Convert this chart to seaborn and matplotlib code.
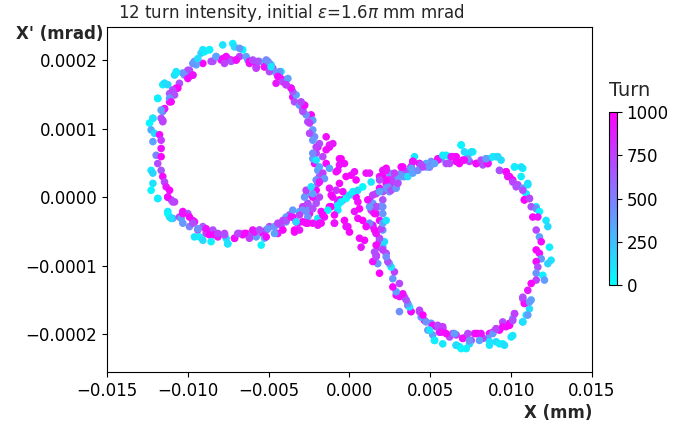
import matplotlib
matplotlib.use("Agg")
import matplotlib.pyplot as plt
import numpy as np
import pandas as pd
import seaborn as sns

# points: (X in 1e-3 mm, X' in 1e-4 mrad, turn)
left_top = [
    (-7.22, 2.24, 60), (-7.84, 2.22, 110), (-6.60, 2.15, 30), (-7.11, 2.19, 150), (-8.66, 2.15, 80),
    (-9.18, 2.10, 170), (-8.97, 2.12, 40), (-8.25, 2.05, 420), (-7.63, 2.05, 960), (-7.32, 2.00, 910),
    (-7.01, 2.00, 990), (-7.94, 2.00, 940), (-8.45, 1.98, 700), (-6.80, 2.05, 760), (-6.29, 2.00, 380),
    (-5.98, 1.98, 450), (-5.57, 1.98, 330), (-5.15, 1.98, 400), (-4.85, 1.93, 120), (-5.26, 1.90, 930),
    (-5.77, 1.90, 980), (-6.19, 1.95, 900), (-9.07, 1.95, 970), (-9.48, 1.93, 360), (-9.69, 1.95, 440),
    (-10.0, 1.85, 720), (-10.31, 1.81, 410), (-10.72, 1.83, 90), (-10.82, 1.78, 140), (-9.90, 1.76, 950),
    (-9.69, 1.78, 920), (-4.95, 1.95, 350), (-5.15, 2.00, 470), (-4.74, 1.88, 690), (-4.54, 1.81, 390),
    (-4.23, 1.83, 70), (-4.33, 1.76, 740), (-4.12, 1.71, 990),
    (-9.07, 2.15, 100), (-8.66, 2.15, 50), (-9.59, 1.98, 380), (-9.38, 2.02, 140), (-8.56, 1.98, 710),
    (-8.25, 2.05, 350), (-7.84, 2.02, 970), (-7.53, 2.02, 930), (-7.32, 1.98, 690), (-7.01, 2.00, 950),
    (-7.73, 1.95, 740), (-6.80, 2.17, 420), (-6.39, 2.05, 360), (-6.19, 1.98, 980), (-5.98, 2.00, 700),
    (-5.77, 1.88, 760), (-5.67, 1.98, 680), (-5.26, 1.90, 940), (-5.05, 1.98, 430), (-4.95, 1.83, 720),
    (-4.85, 1.90, 90), (-4.33, 1.83, 400), (-4.43, 1.76, 960), (-4.54, 1.66, 910), (-4.12, 1.68, 730),
    (-3.92, 1.64, 990), (-3.81, 1.73, 370), (-3.61, 1.59, 440), (-3.51, 1.46, 950), (-3.40, 1.39, 700),
    (-3.09, 1.34, 410), (-2.78, 1.34, 920), (-2.89, 1.27, 750), (-2.37, 1.20, 970), (-2.27, 1.12, 390),
    (-2.58, 1.10, 690),
]
left_outer = [
    (-10.52, 1.66, 680), (-10.72, 1.59, 940), (-10.93, 1.56, 770), (-11.13, 1.51, 650), (-11.44, 1.66, 100),
    (-11.55, 1.64, 50), (-11.24, 1.64, 160), (-11.86, 1.44, 130), (-11.13, 1.39, 970), (-11.44, 1.29, 910),
    (-11.55, 1.25, 430), (-11.65, 1.15, 700), (-11.55, 1.10, 750), (-12.16, 1.15, 60), (-12.37, 1.08, 20),
    (-12.27, 0.98, 310), (-12.06, 0.93, 140), (-11.75, 0.91, 950), (-11.65, 0.83, 790), (-12.16, 0.81, 370),
    (-11.65, 0.71, 930), (-11.96, 0.61, 460), (-11.65, 0.59, 990), (-11.86, 0.49, 710), (-12.27, 0.39, 80),
    (-12.16, 0.35, 170), (-11.65, 0.39, 660), (-11.55, 0.30, 960), (-11.44, 0.22, 730), (-12.16, 0.20, 110),
    (-12.27, 0.10, 40), (-11.34, 0.15, 900), (-11.13, 0.10, 980), (-11.24, 0.00, 940), (-11.86, -0.02, 120),
    (-11.03, -0.04, 690), (-10.82, -0.07, 760),
    (-9.90, 1.85, 700), (-10.21, 1.78, 420), (-10.0, 1.73, 960), (-9.69, 1.78, 930), (-10.72, 1.81, 80),
    (-11.44, 1.66, 130), (-10.62, 1.59, 990), (-10.93, 1.56, 720), (-10.82, 1.49, 680), (-11.13, 1.44, 400),
    (-11.03, 1.39, 950), (-11.86, 1.44, 60), (-11.44, 1.29, 920), (-11.65, 1.27, 360), (-11.55, 1.12, 740),
    (-12.16, 1.15, 110),
]
left_bottom = [
    (-11.24, -0.21, 90), (-11.13, -0.29, 150), (-10.93, -0.31, 340), (-10.52, -0.29, 720), (-10.31, -0.21, 970),
    (-10.0, -0.24, 680), (-9.69, -0.34, 780), (-9.59, -0.36, 920), (-10.31, -0.38, 410), (-9.90, -0.43, 470),
    (-9.38, -0.48, 700), (-9.07, -0.43, 650), (-8.87, -0.48, 990), (-9.28, -0.58, 60), (-8.87, -0.53, 740),
    (-8.45, -0.48, 690), (-8.35, -0.55, 950), (-8.14, -0.58, 910), (-7.73, -0.53, 770), (-7.53, -0.68, 30),
    (-7.63, -0.60, 130), (-7.11, -0.60, 960), (-6.80, -0.53, 720), (-6.60, -0.55, 930), (-6.39, -0.53, 990),
    (-6.08, -0.55, 660), (-5.98, -0.48, 940), (-5.77, -0.58, 380), (-5.57, -0.48, 440), (-5.36, -0.53, 970),
    (-5.26, -0.60, 320), (-5.15, -0.48, 750), (-4.95, -0.43, 710), (-4.64, -0.43, 400), (-4.43, -0.53, 900),
    (-4.23, -0.41, 680), (-3.92, -0.36, 450), (-3.71, -0.26, 730), (-3.51, -0.29, 960), (-3.20, -0.38, 920),
    (-3.09, -0.21, 360), (-2.89, -0.14, 790), (-2.68, -0.19, 980), (-2.47, -0.24, 940), (-3.40, -0.51, 950),
    (-3.09, -0.48, 910), (-2.58, -0.29, 420), (-1.96, -0.31, 100), (-2.89, -0.36, 990), (-2.27, -0.38, 930),
    (-3.09, -0.24, 80), (-3.51, -0.19, 390), (-3.92, -0.29, 350), (-4.12, -0.34, 760), (-3.30, -0.36, 950),
    (-2.68, -0.38, 920), (-4.12, -0.48, 980), (-1.75, -0.38, 960), (-1.96, -0.41, 900), (-2.89, -0.19, 430),
    (-2.47, -0.14, 370),
    (-11.86, -0.02, 70), (-11.24, 0.00, 960), (-10.93, -0.07, 730), (-11.24, -0.24, 40), (-11.03, -0.31, 120),
    (-10.41, -0.31, 390), (-10.31, -0.24, 940), (-9.90, -0.29, 970), (-9.69, -0.38, 700), (-9.38, -0.46, 420),
    (-9.59, -0.58, 90), (-9.07, -0.63, 150), (-8.87, -0.46, 930), (-8.66, -0.55, 990), (-8.56, -0.65, 60),
    (-8.14, -0.53, 740), (-7.73, -0.55, 690), (-7.53, -0.68, 110), (-7.11, -0.60, 950), (-6.91, -0.53, 720),
    (-6.49, -0.53, 980), (-6.19, -0.60, 760), (-5.88, -0.51, 910), (-5.57, -0.48, 700), (-5.46, -0.70, 50),
    (-5.15, -0.58, 960), (-5.05, -0.46, 410), (-4.64, -0.53, 360), (-4.43, -0.38, 730), (-3.92, -0.34, 680),
    (-3.61, -0.29, 940), (-3.30, -0.36, 130), (-3.40, -0.48, 990), (-3.09, -0.26, 750), (-2.68, -0.21, 440),
    (-2.58, -0.38, 970), (-2.27, -0.17, 710), (-1.86, -0.38, 950), (-1.55, -0.29, 920), (-1.75, -0.21, 980),
    (-2.68, 0.03, 400), (-2.06, -0.04, 690), (-1.13, -0.14, 960), (-0.93, -0.38, 930),
]
left_inner = [
    (-2.58, -0.09, 700), (-2.78, 0.00, 410), (-2.68, 0.10, 760), (-2.27, 0.00, 950), (-2.06, 0.10, 990),
    (-1.96, 0.20, 720), (-1.86, 0.30, 680), (-1.96, 0.39, 380), (-2.16, 0.49, 930), (-2.27, 0.56, 340),
    (-2.06, 0.64, 740), (-1.96, 0.73, 970), (-1.86, 0.78, 700), (-2.16, 0.88, 450), (-2.27, 0.98, 390),
    (-2.47, 1.08, 770), (-2.68, 1.20, 420), (-2.89, 1.25, 690), (-2.78, 1.34, 960), (-2.99, 1.39, 730),
    (-3.30, 1.49, 360), (-3.51, 1.54, 660), (-3.61, 1.59, 940), (-3.92, 1.64, 780), (-2.47, 0.93, 710),
    (-2.27, 0.83, 400), (-2.06, 0.73, 750), (-2.27, 0.64, 460), (-2.06, 0.54, 90), (-1.65, 0.59, 720),
    (-1.86, 0.44, 330), (-1.44, 0.49, 980), (-1.65, 0.35, 760), (-2.06, 0.25, 440), (-2.37, 0.15, 120),
    (-2.27, 0.05, 370), (-1.86, 0.00, 740), (-2.06, -0.09, 680), (-1.55, 0.27, 410), (-1.24, 0.42, 350),
    (-1.86, 0.22, 920),
]
centre = [
    (-1.44, 0.88, 950), (-1.24, 0.73, 990), (-1.03, 0.78, 920), (-0.62, 0.56, 960), (-0.31, 0.49, 940),
    (-0.21, 0.30, 980), (-0.72, 0.39, 910), (-0.62, 0.20, 970), (-0.82, 0.10, 800), (-1.03, 0.00, 930),
    (-1.24, -0.14, 990), (-1.34, -0.19, 60), (-0.62, -0.04, 950), (-0.21, 0.00, 110), (-0.72, -0.19, 90),
    (-0.93, -0.26, 960), (-0.93, -0.38, 920), (-0.31, -0.34, 980), (-0.10, -0.43, 940), (-1.65, -0.26, 970),
    (-1.24, 0.76, 900), (-1.44, 0.69, 960), (-0.52, 0.56, 990), (-0.62, 0.47, 930), (-0.82, 0.37, 950),
    (-1.24, 0.13, 910), (-1.13, 0.03, 970), (-0.41, 0.08, 940), (-0.41, -0.04, 990), (-0.72, -0.07, 920),
    (0.10, 0.32, 960), (0.31, 0.37, 930), (0.41, 0.25, 980), (1.03, 0.35, 950), (1.24, 0.35, 910),
    (0.41, 0.00, 970), (0.52, -0.07, 940), (0.62, -0.17, 990), (0.31, -0.21, 920), (0.52, -0.31, 960),
    (-0.21, -0.43, 930), (0.00, -0.51, 980), (0.62, -0.60, 950), (0.72, -0.73, 910), (0.93, -0.63, 970),
    (1.24, -0.04, 940), (0.82, -0.34, 990), (1.44, -0.21, 930),
    (-0.72, -0.12, 40), (-0.52, -0.07, 80), (-0.21, -0.02, 20), (0.00, 0.03, 120), (0.21, 0.08, 60),
    (0.52, 0.10, 150), (0.82, 0.15, 30), (1.34, 0.22, 100),
]
right_inner = [
    (1.86, 0.30, 960), (2.06, 0.39, 930), (2.27, 0.42, 990), (2.47, 0.35, 400), (2.78, 0.27, 720),
    (2.99, 0.30, 360), (3.20, 0.35, 440), (3.51, 0.37, 690), (3.81, 0.44, 380), (4.02, 0.59, 90),
    (3.92, 0.52, 950), (4.33, 0.49, 420), (4.74, 0.44, 330), (1.86, 0.13, 970), (2.27, 0.20, 910),
    (2.68, 0.18, 750), (2.47, 0.08, 460), (1.65, 0.05, 710), (1.44, -0.09, 390), (1.34, -0.19, 760),
    (1.65, -0.24, 940), (1.86, -0.14, 430), (2.06, -0.04, 680), (1.86, -0.34, 980), (1.44, -0.43, 730),
    (1.65, -0.53, 350), (2.06, -0.48, 410), (1.86, -0.63, 920), (1.75, -0.73, 770), (2.06, -0.73, 370),
    (2.27, -0.82, 700), (1.65, -0.85, 960),
]
right_top = [
    (6.91, 0.76, 70), (7.11, 0.66, 140), (7.63, 0.66, 30), (7.32, 0.61, 110), (6.19, 0.59, 160),
    (5.98, 0.61, 50), (5.67, 0.56, 380), (5.46, 0.54, 960), (5.05, 0.52, 430), (4.74, 0.49, 340),
    (4.33, 0.49, 920), (3.92, 0.52, 990), (3.81, 0.44, 940), (3.30, 0.44, 970), (6.19, 0.49, 710),
    (6.60, 0.52, 950), (6.39, 0.59, 910), (7.01, 0.54, 980), (7.42, 0.52, 740), (7.84, 0.49, 930),
    (8.25, 0.47, 690), (8.56, 0.49, 970), (8.66, 0.56, 90), (8.45, 0.56, 180), (9.07, 0.59, 60),
    (9.38, 0.54, 130), (9.28, 0.39, 410), (9.69, 0.37, 730), (9.90, 0.30, 960), (10.21, 0.44, 100),
    (10.72, 0.42, 40), (10.10, 0.25, 990), (10.41, 0.18, 700), (10.72, 0.13, 390), (11.03, 0.18, 120),
    (10.93, 0.05, 80), (10.82, -0.04, 940), (11.13, -0.02, 760),
    (6.91, 0.76, 40), (7.53, 0.66, 130), (7.32, 0.56, 410), (6.60, 0.59, 970), (6.29, 0.59, 930),
    (5.98, 0.49, 700), (6.80, 0.49, 990), (7.11, 0.54, 950), (7.84, 0.49, 960), (8.14, 0.54, 720),
    (8.56, 0.49, 940), (8.45, 0.56, 380), (8.87, 0.59, 90), (9.18, 0.59, 150), (9.28, 0.39, 690),
    (9.69, 0.37, 980), (10.21, 0.44, 70), (10.62, 0.44, 120), (9.79, 0.30, 920), (10.10, 0.22, 740),
    (10.31, 0.15, 680), (10.62, 0.30, 60), (11.03, 0.20, 110), (10.72, 0.10, 710), (10.82, -0.04, 990),
    (11.13, -0.02, 730), (11.55, -0.14, 100), (5.46, 0.56, 950), (5.77, 0.61, 80), (5.15, 0.49, 400),
    (4.95, 0.44, 960), (4.43, 0.47, 700), (3.92, 0.52, 930), (3.81, 0.42, 360), (3.20, 0.44, 990),
    (2.78, 0.35, 760), (3.40, 0.30, 420), (2.99, 0.22, 380), (2.47, 0.25, 950), (2.06, 0.30, 970),
    (2.27, 0.39, 910), (2.37, 0.15, 430), (2.06, 0.08, 690),
]
right_outer = [
    (11.24, -0.14, 680), (11.55, -0.17, 440), (11.75, -0.21, 20), (12.16, -0.34, 90), (12.27, -0.43, 150),
    (11.34, -0.29, 970), (11.65, -0.29, 920), (11.55, -0.48, 720), (11.75, -0.58, 360), (11.86, -0.65, 950),
    (12.37, -0.73, 60), (11.55, -0.77, 990), (11.75, -0.82, 930), (11.86, -0.90, 400), (12.47, -0.92, 110),
    (12.27, -0.97, 170), (11.55, -0.94, 960), (11.65, -1.02, 700), (11.55, -1.11, 420), (11.96, -1.14, 50),
    (12.06, -1.21, 380), (11.55, -1.21, 750), (11.24, -1.26, 980), (11.03, -1.36, 910), (10.72, -1.48, 690),
    (10.82, -1.55, 950), (11.24, -1.50, 350), (11.13, -1.63, 130), (10.93, -1.72, 70), (10.72, -1.82, 160),
]
right_bottom = [
    (10.21, -1.70, 740), (10.10, -1.77, 430), (9.90, -1.84, 970), (9.69, -1.89, 920), (9.48, -1.82, 710),
    (9.28, -1.94, 990), (9.07, -1.92, 680), (8.87, -1.97, 940), (8.66, -1.99, 960), (10.0, -2.04, 100),
    (9.48, -2.14, 40), (9.07, -2.11, 140), (8.66, -2.16, 80), (8.56, -2.06, 390), (8.25, -2.06, 730),
    (7.94, -1.99, 950), (7.73, -1.99, 910), (7.53, -2.09, 700), (7.22, -2.04, 440), (7.01, -2.06, 980),
    (6.60, -2.01, 760), (6.39, -1.99, 690), (6.80, -2.18, 30), (6.60, -2.16, 120), (7.42, -2.14, 170),
    (7.22, -2.21, 60), (6.19, -2.04, 720), (5.77, -2.14, 90), (5.77, -1.92, 970), (5.57, -1.97, 930),
    (5.36, -1.89, 740), (5.05, -1.84, 410), (5.15, -2.01, 360), (5.26, -2.09, 150), (4.85, -1.94, 450),
    (4.64, -1.80, 960), (4.43, -1.75, 380), (4.33, -1.67, 710),
    (2.89, -1.43, 960), (3.40, -1.46, 720), (3.61, -1.58, 690), (3.81, -1.67, 80), (4.33, -1.65, 740),
    (4.54, -1.72, 990), (4.74, -1.82, 420), (5.15, -1.87, 950), (5.46, -1.87, 700), (5.77, -1.89, 760),
    (4.95, -1.94, 110), (5.26, -2.09, 60), (5.67, -1.97, 930), (5.98, -1.99, 970), (6.49, -1.99, 380),
    (6.60, -2.16, 140), (6.91, -2.21, 40), (7.01, -2.06, 940), (7.42, -2.09, 430), (7.32, -1.99, 710),
    (7.84, -1.99, 980), (8.14, -1.99, 920), (8.04, -2.09, 360), (8.66, -2.11, 100), (8.87, -1.99, 400),
    (9.07, -1.92, 730), (9.48, -1.89, 960), (9.28, -2.14, 70), (9.59, -2.16, 130), (9.90, -1.87, 990),
    (10.10, -1.80, 690), (10.21, -1.70, 750), (10.10, -2.02, 90), (10.72, -1.82, 120), (10.82, -1.55, 950),
    (10.72, -1.46, 700), (11.13, -1.53, 410), (11.03, -1.72, 380), (3.09, -1.67, 440),
]
right_left = [
    (3.81, -1.67, 990), (3.71, -1.60, 110), (3.61, -1.55, 420), (3.51, -1.50, 680), (3.30, -1.41, 950),
    (3.09, -1.45, 920), (2.89, -1.38, 370), (2.68, -1.31, 970), (3.09, -1.26, 730), (2.68, -1.19, 400),
    (2.78, -1.09, 760), (2.58, -1.02, 80), (2.47, -0.97, 340), (2.37, -0.94, 700), (2.27, -0.87, 450),
    (1.86, -1.11, 990), (1.75, -0.97, 390), (1.44, -0.94, 940), (1.65, -0.87, 720), (1.55, -0.80, 690),
    (2.06, -0.77, 750), (1.65, -0.70, 960), (2.16, -0.65, 130), (1.86, -0.60, 710), (1.65, -0.53, 930),
    (1.96, -0.46, 740), (1.55, -0.48, 980), (1.44, -0.41, 910), (1.24, -0.38, 430), (1.03, -0.43, 950),
    (2.06, -0.38, 360), (2.27, -0.34, 100), (2.06, -0.24, 410), (1.55, -0.24, 970), (1.65, -0.14, 700),
    (1.24, -0.14, 380), (2.06, -0.14, 440), (1.13, -0.04, 940), (1.44, 0.03, 760), (1.86, 0.08, 350),
    (2.27, 0.13, 420), (2.58, 0.10, 690), (2.89, 0.13, 400), (2.99, 0.20, 730), (2.58, 0.25, 770),
    (2.27, 0.25, 960), (1.86, 0.25, 700), (3.30, 0.30, 390), (3.61, 0.30, 120), (3.92, 0.35, 360),
    (4.23, 0.39, 450), (4.54, 0.44, 740), (4.95, 0.44, 410), (5.26, 0.49, 370),
]

x_ticks = [-0.015, -0.010, -0.005, 0.000, 0.005, 0.010, 0.015]
y_ticks = [-0.0002, -0.0001, 0.0, 0.0001, 0.0002]
turn_ticks = [0, 250, 500, 750, 1000]

pts = (left_top + left_outer + left_bottom + left_inner + centre
       + right_inner + right_top + right_outer + right_bottom + right_left)
df = pd.DataFrame(pts, columns=['x', 'xp', 'turn'])
df['x'] = df['x'] * 1e-3    # mm
df['xp'] = df['xp'] * 1e-4  # mrad

sns.set_style('ticks')
plt.rcParams['font.family'] = ['DejaVu Sans']
plt.rcParams['axes.edgecolor'] = 'black'
plt.rcParams['xtick.color'] = 'black'
plt.rcParams['ytick.color'] = 'black'
plt.rcParams['axes.linewidth'] = 0.8

fig = plt.figure(figsize=(6.75, 4.3), dpi=100)
ax = fig.add_axes([0.1585, 0.135, 0.7185, 0.802])
sns.scatterplot(data=df, x='x', y='xp', hue='turn', palette='cool', hue_norm=(0, 1000),
                s=30, linewidth=0, legend=False, ax=ax)

ax.set_xlim(-0.015, 0.015)
ax.set_ylim(-0.000255, 0.000248)
ax.set_xticks(x_ticks)
ax.set_yticks(y_ticks)
ax.tick_params(labelsize=12, direction='out', length=3.5, width=0.8)
for s in ax.spines.values():
    s.set_visible(True)

ax.set_xlabel('X (mm)', fontsize=12, fontweight='bold', ha='right', va='center')
ax.xaxis.set_label_coords(1.0, -0.12)
ax.set_ylabel("X' (mrad)", fontsize=12, fontweight='bold', rotation=0, ha='right', va='center')
ax.yaxis.set_label_coords(-0.008, 0.98)
ax.text(0.023, 1.04, r'12 turn intensity, initial $\varepsilon$=1.6$\pi$ mm mrad',
        transform=ax.transAxes, fontsize=12, ha='left', va='center')

cax = fig.add_axes([0.902, 0.337, 0.0119, 0.402])
sm = plt.cm.ScalarMappable(cmap='cool', norm=plt.Normalize(0, 1000))
cb = fig.colorbar(sm, cax=cax)
cb.set_ticks(turn_ticks)
cb.outline.set_edgecolor('black')
cb.outline.set_linewidth(0.8)
cax.tick_params(labelsize=12, length=3.5, width=0.8, colors='black')
cax.text(0.0, 1.07, 'Turn', transform=cax.transAxes, fontsize=14, ha='left', va='bottom')

fig.savefig('out.png', dpi=100)
